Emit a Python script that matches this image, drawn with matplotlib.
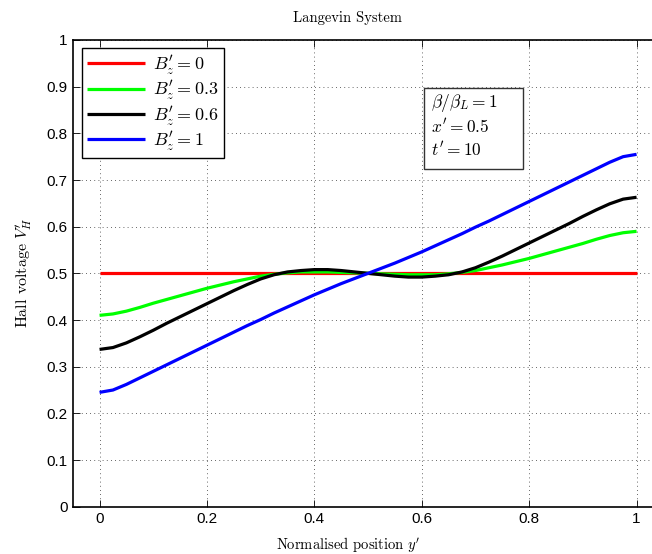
import matplotlib
matplotlib.use("Agg")
import matplotlib.pyplot as plt
from matplotlib.patches import Rectangle

plt.rcParams['mathtext.fontset'] = 'cm'
plt.rcParams['font.family'] = ['Liberation Sans', 'DejaVu Sans']

# normalised position y' (step 0.025)
pos = [i / 40 for i in range(41)]

# Hall voltage V'_H for each B'_z
v_b0 = [0.5] * len(pos)
v_b03 = [0.410, 0.413, 0.419, 0.427, 0.436, 0.444, 0.452, 0.460, 0.468, 0.475,
         0.482, 0.488, 0.494, 0.498, 0.501, 0.503, 0.503, 0.503, 0.502, 0.501,
         0.500,
         0.499, 0.498, 0.497, 0.497, 0.497, 0.499, 0.502, 0.506, 0.512, 0.518,
         0.525, 0.532, 0.540, 0.548, 0.556, 0.564, 0.573, 0.581, 0.587, 0.590]
v_b06 = [0.337, 0.341, 0.351, 0.364, 0.378, 0.393, 0.407, 0.421, 0.435, 0.449,
         0.463, 0.476, 0.488, 0.497, 0.503, 0.506, 0.508, 0.508, 0.506, 0.503,
         0.500,
         0.497, 0.494, 0.492, 0.492, 0.494, 0.497, 0.503, 0.512, 0.524, 0.537,
         0.551, 0.565, 0.579, 0.593, 0.607, 0.622, 0.636, 0.649, 0.659, 0.663]
v_b1 = [0.245, 0.250, 0.262, 0.276, 0.290, 0.304, 0.318, 0.332, 0.346, 0.360,
        0.374, 0.388, 0.401, 0.415, 0.428, 0.441, 0.454, 0.466, 0.478, 0.489,
        0.500,
        0.511, 0.522, 0.534, 0.546, 0.559, 0.572, 0.585, 0.599, 0.612, 0.626,
        0.640, 0.654, 0.668, 0.682, 0.696, 0.710, 0.724, 0.738, 0.750, 0.755]

series = [(v_b0, 'red', r"$B_z^{\prime}=0$"),
          (v_b03, '#00ff00', r"$B_z^{\prime}=0.3$"),
          (v_b06, 'black', r"$B_z^{\prime}=0.6$"),
          (v_b1, 'blue', r"$B_z^{\prime}=1$")]

params = [r"$\beta/\beta_L=1$", r"$x^{\prime}=0.5$", r"$t^{\prime}=10$"]

xticks = [0, 0.2, 0.4, 0.6, 0.8, 1]
xticklabels = ['0', '0.2', '0.4', '0.6', '0.8', '1']
yticks = [0, 0.1, 0.2, 0.3, 0.4, 0.5, 0.6, 0.7, 0.8, 0.9, 1]
yticklabels = ['0', '0.1', '0.2', '0.3', '0.4', '0.5', '0.6', '0.7', '0.8', '0.9', '1']

fig = plt.figure(figsize=(6.52, 5.54), dpi=100)
ax = fig.add_axes([0.1115, 0.0854, 0.906, 0.8424])

for vals, col, lab in series:
    ax.plot(pos, vals, color=col, lw=2.3, label=lab, solid_capstyle='butt')

ax.set_xlim(-0.05, 1.05)
ax.set_ylim(0, 1)
ax.set_xticks(xticks)
ax.set_xticklabels(xticklabels)
ax.set_yticks(yticks)
ax.set_yticklabels(yticklabels)
ax.tick_params(direction='in', top=True, right=True, labelsize=11, length=5, width=0.6)
ax.grid(True, linestyle=(0, (1, 4)), color='black', lw=0.6, alpha=0.8)
for sp in ax.spines.values():
    sp.set_linewidth(1.2)

# title and xlabel are centred on the original (uncropped) figure, left of the axes centre
fig.text(347 / 652, 1 - 18 / 554, "Langevin System", fontfamily='cmr10', fontsize=10.5,
         ha='center', va='center')
fig.text(348 / 652, 1 - 545 / 554, r"Normalised position $y^{\prime}$", fontfamily='cmr10',
         fontsize=10.5, ha='center', va='center')
fig.text(23 / 652, 1 - 273 / 554, r"Hall voltage $V_H^{\prime}$", fontfamily='cmr10',
         fontsize=11.5, ha='center', va='center', rotation=90)

leg = ax.legend(loc='upper left', bbox_to_anchor=(0.015, 0.983), fontsize=13,
                fancybox=False, edgecolor='black', framealpha=1, handlelength=3.2,
                borderpad=0.3, labelspacing=0.1, handletextpad=0.45, borderaxespad=0)
leg.get_frame().set_linewidth(1.0)

# parameter box
ax.add_patch(Rectangle((0.605, 0.723), 0.183, 0.174, fc='white', ec='#333333', lw=1.0, zorder=5))
for i, s in enumerate(params):
    ax.text(0.618, 0.865 - i * 0.05, s, fontsize=12.5, ha='left', va='center', zorder=6)

fig.savefig("out.png", dpi=100)
